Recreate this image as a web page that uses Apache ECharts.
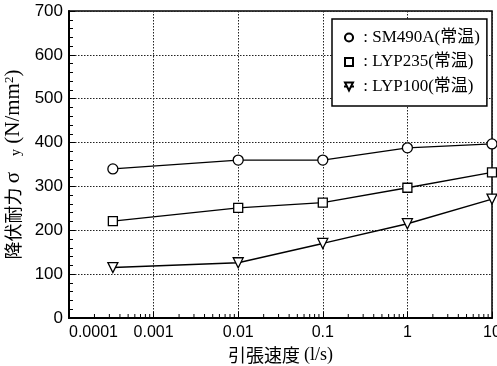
<!DOCTYPE html>
<html><head><meta charset="utf-8">
<script src="https://cdn.jsdelivr.net/npm/echarts@6/dist/echarts.min.js"></script>
<style>html,body{margin:0;padding:0;background:#fff}#c{width:497px;height:366px}</style>
</head><body><div id="c"></div>
<script>
var strainRates = [0.00033, 0.01, 0.1, 1, 10];
var sm490a = [340, 360, 360, 388, 397];
var lyp235 = [221, 251, 263, 297, 332];
var lyp100 = [115, 126, 170, 215, 271];
var seriesNames = ['SM490A(常温)', 'LYP235(常温)', 'LYP100(常温)'];
var xTickValues = [0.0001, 0.001, 0.01, 0.1, 1, 10];
var xTickLabels = ['0.0001', '0.001', '0.01', '0.1', '1', '10'];
var xMinorTicks = [0.0002,0.0003,0.0004,0.0005,0.0006,0.0007,0.0008,0.0009,
  0.002,0.003,0.004,0.005,0.006,0.007,0.008,0.009,
  0.02,0.03,0.04,0.05,0.06,0.07,0.08,0.09,
  0.2,0.3,0.4,0.5,0.6,0.7,0.8,0.9,
  2,3,4,5,6,7,8,9];
var yTickLabels = ['0','100','200','300','400','500','600','700'];

function pairs(xs, ys){ return xs.map(function(x,i){ return [x, ys[i]]; }); }

var chart = echarts.init(document.getElementById('c'), null, {renderer:'canvas'});
var downTri = 'path://M0,0L10,0L5,9Z';
var markerStyle = {color:'#fff', borderColor:'#000', borderWidth:1.3};
function lineSeries(name, data, symbol, size){
  return {type:'line', name:name, data:pairs(strainRates, data), symbol:symbol, symbolSize:size,
    showSymbol:true, clip:false, lineStyle:{color:'#000', width:1.4},
    itemStyle:markerStyle, emphasis:{disabled:true}, z:3};
}
var option = {
  animation:false,
  backgroundColor:'#fff',
  grid:{left:69, right:5, top:11, bottom:48, show:true, borderColor:'#000', borderWidth:1.5,
    backgroundColor:'transparent', containLabel:false, outerBoundsMode:'none'},
  legend:{
    data:seriesNames, orient:'vertical', left:332, top:19,
    padding:[10,7,11,11], itemGap:7.5, itemWidth:10, itemHeight:10,
    backgroundColor:'#fff', borderColor:'#000', borderWidth:1.5,
    formatter:function(n){ return ' : ' + n; },
    textStyle:{fontFamily:'Liberation Serif, Noto Sans CJK JP', fontSize:17, lineHeight:17, color:'#000'},
    selectedMode:false
  },
  xAxis:{
    type:'log', logBase:10, min:0.0001, max:10,
    name:'{jp|引張速度 }{s|(l/s)}', nameLocation:'middle', nameGap:25,
    nameTextStyle:{color:'#000', fontSize:18, rich:{
      jp:{fontFamily:'Noto Sans CJK JP', fontSize:18, color:'#000'},
      s:{fontFamily:'Liberation Serif', fontSize:18, color:'#000'}
    }},
    axisLine:{lineStyle:{color:'#000', width:2}},
    axisTick:{inside:true, length:6, lineStyle:{color:'#000', width:1}},
    axisLabel:{color:'#000', fontFamily:'Liberation Sans', fontSize:16, margin:7,
      alignMinLabel:'left',
      formatter:function(v){ var i=xTickValues.findIndex(function(t){return Math.abs(Math.log10(t)-Math.log10(v))<1e-6;}); return i>=0?xTickLabels[i]:''; }},
    splitLine:{show:true, lineStyle:{color:'#222', width:1, type:[1.5,1.5]}}
  },
  yAxis:{
    type:'value', min:0, max:700, interval:100,
    name:'{jp|降伏耐力 }{s|σ}{g| }{sub|y}{s| (N/mm}{sup|2}{s|)}', nameLocation:'middle', nameGap:39, nameRotate:90,
    nameTextStyle:{color:'#000', fontSize:21, rich:{
      jp:{fontFamily:'Noto Sans CJK JP', fontSize:18, color:'#000'},
      s:{fontFamily:'Liberation Serif', fontSize:21, color:'#000'},
      g:{fontFamily:'Liberation Serif', fontSize:21, width:16},
      sub:{fontFamily:'Liberation Serif', fontSize:14, color:'#000', verticalAlign:'bottom'},
      sup:{fontFamily:'Liberation Serif', fontSize:13, color:'#000', verticalAlign:'top'}
    }},
    axisLine:{show:true, lineStyle:{color:'#000', width:2}},
    axisTick:{show:true, inside:true, length:6, lineStyle:{color:'#000', width:1}},
    minorTick:{show:true, splitNumber:5, length:4, lineStyle:{color:'#000', width:1}},
    axisLabel:{color:'#000', fontFamily:'Liberation Sans', fontSize:17, margin:6,
      formatter:function(v){ return yTickLabels[Math.round(v/100)]; }},
    splitLine:{show:true, lineStyle:{color:'#222', width:1, type:[1.5,1.5]}}
  },
  series:[
    lineSeries(seriesNames[0], sm490a, 'circle', 10),
    lineSeries(seriesNames[1], lyp235, 'rect', 9),
    lineSeries(seriesNames[2], lyp100, downTri, 10),
    {type:'custom', name:'minorTicks', silent:true, clip:false, z:4,
      data:xMinorTicks.map(function(x){return [x,0];}),
      renderItem:function(params, api){
        var p = api.coord([api.value(0), 0]);
        return {type:'line', shape:{x1:p[0], y1:p[1], x2:p[0], y2:p[1]-4}, style:{stroke:'#000', lineWidth:1}};
      }}
  ]
};
chart.setOption(option);
</script>
</body></html>
